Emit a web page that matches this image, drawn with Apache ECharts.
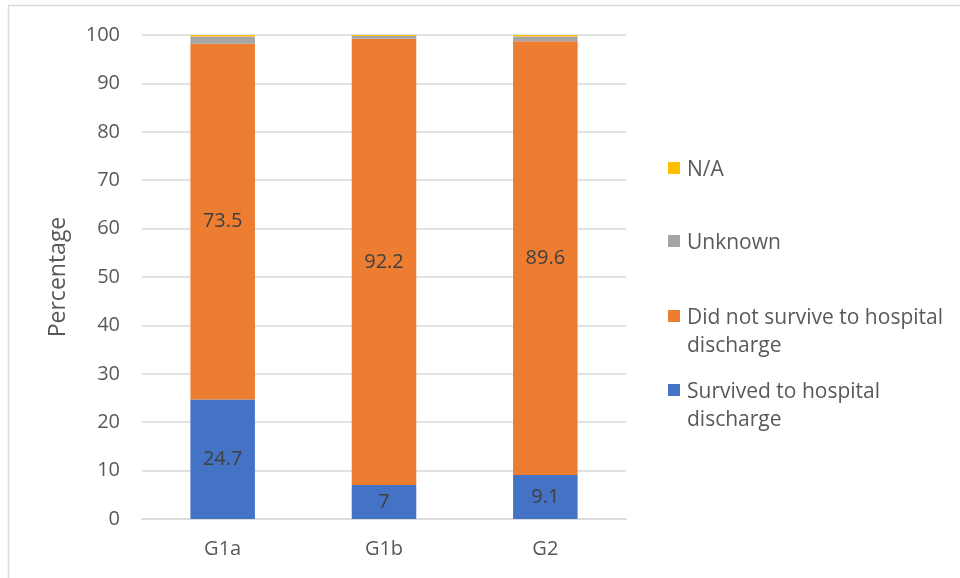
<!DOCTYPE html>
<html>
<head>
<meta charset="utf-8">
<script src="https://cdn.jsdelivr.net/npm/echarts@6/dist/echarts.min.js"></script>
<style>
  html, body { margin: 0; padding: 0; background: #fff; }
  #chart { width: 960px; height: 578px; }
</style>
</head>
<body>
<div id="chart"></div>
<script>
// Outcome by group, stacked percentages
const groups = ['G1a', 'G1b', 'G2'];
const survived = [24.7, 7, 9.1];
const notSurvived = [73.5, 92.2, 89.6];
const unknown = [1.5, 0.6, 1.0];
const notApplicable = [0.3, 0.2, 0.3];
const yTicks = [0, 10, 20, 30, 40, 50, 60, 70, 80, 90, 100];

const seriesNames = [
  'Survived to hospital discharge',
  'Did not survive to hospital discharge',
  'Unknown',
  'N/A'
];
// legend lines, wrapped as in the key on the right
const legendLines = [
  ['Survived to hospital', 'discharge'],
  ['Did not survive to hospital', 'discharge'],
  ['Unknown'],
  ['N/A']
];
const colors = ['#4472c4', '#ed7d31', '#a5a5a5', '#ffc000'];

const FONT = '"Open Sans", "Noto Sans", sans-serif';
const TXT = '#595959';
const FS = 20;

const chart = echarts.init(document.getElementById('chart'));

function barSeries(i, data, showLabel) {
  return {
    name: seriesNames[i],
    type: 'bar',
    stack: 'total',
    barWidth: '40%',
    data: data,
    itemStyle: { color: colors[i] },
    label: {
      show: showLabel,
      position: 'inside',
      color: '#404040',
      fontSize: FS,
      fontFamily: FONT
    },
    emphasis: { disabled: true }
  };
}

// Key: entries listed top to bottom in reverse stacking order,
// each square aligned with the first text line.
const keyTops = [390, 316, 241, 168]; // first-line centre per series index
const keyGraphics = [];
for (let i = 0; i < seriesNames.length; i++) {
  const cy = keyTops[i];
  keyGraphics.push({
    type: 'rect',
    shape: { x: 668, y: cy - 6, width: 12, height: 12 },
    style: { fill: colors[i] },
    silent: true
  });
  keyGraphics.push({
    type: 'text',
    x: 687,
    y: cy - 12,
    style: {
      text: legendLines[i].join('\n'),
      fill: TXT,
      font: '21px ' + FONT,
      lineHeight: 28,
      verticalAlign: 'top'
    },
    silent: true
  });
}

chart.setOption({
  animation: false,
  textStyle: { fontFamily: FONT },
  graphic: [{
    type: 'rect',
    shape: { x: 8.5, y: 5.5, width: 1000, height: 1000 },
    style: { fill: 'none', stroke: '#d9d9d9', lineWidth: 1.5 },
    silent: true
  }].concat(keyGraphics),
  grid: { left: 142, right: 334, top: 35, bottom: 59 },
  xAxis: {
    type: 'category',
    data: groups,
    axisLine: { lineStyle: { color: '#d9d9d9', width: 1.5 } },
    axisTick: { show: false },
    axisLabel: { color: TXT, fontSize: FS, fontFamily: FONT, margin: 20 }
  },
  yAxis: {
    type: 'value',
    min: yTicks[0],
    max: yTicks[yTicks.length - 1],
    interval: 10,
    name: 'Percentage',
    nameLocation: 'middle',
    nameGap: 72,
    nameRotate: 90,
    nameTextStyle: { color: TXT, fontSize: 23, fontFamily: FONT },
    axisLine: { show: false },
    axisTick: { show: false },
    axisLabel: { color: TXT, fontSize: FS, fontFamily: FONT, margin: 22 },
    splitLine: { lineStyle: { color: '#d9d9d9', width: 1.5 } }
  },
  series: [
    barSeries(0, survived, true),
    barSeries(1, notSurvived, true),
    barSeries(2, unknown, false),
    barSeries(3, notApplicable, false)
  ]
});
</script>
</body>
</html>
